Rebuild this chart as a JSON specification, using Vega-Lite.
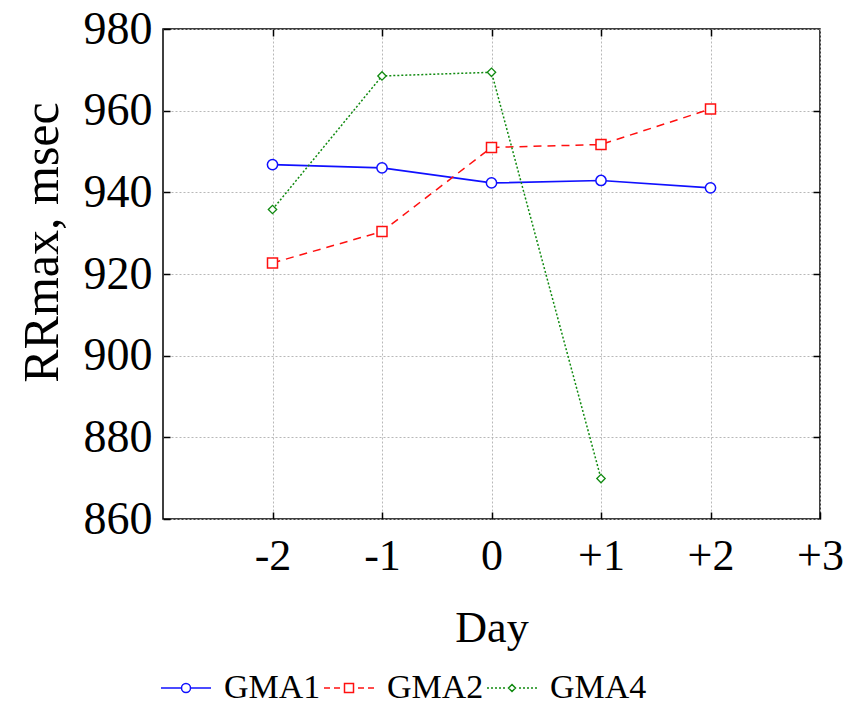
{
  "$schema": "https://vega.github.io/schema/vega-lite/v6.json",
  "width": 657,
  "height": 490,
  "autosize": {"type": "none"},
  "padding": {"left": 163, "top": 29, "right": 24, "bottom": 191},
  "background": "white",
  "config": {
    "view": {"stroke": "black", "strokeWidth": 1.5},
    "font": "Liberation Serif",
    "axis": {"domain": false, "labelColor": "black", "titleColor": "black", "titleFontWeight": "normal", "labelFont": "Liberation Serif", "titleFont": "Liberation Serif", "tickColor": "black", "tickWidth": 1.5, "gridColor": "#b8b8b8", "gridDash": [2, 2], "gridWidth": 1}
  },
  "data": {
    "values": [
      {"day": -2, "rr": 946.8, "series": "GMA1"},
      {"day": -1, "rr": 946.0, "series": "GMA1"},
      {"day": 0, "rr": 942.3, "series": "GMA1"},
      {"day": 1, "rr": 942.9, "series": "GMA1"},
      {"day": 2, "rr": 941.1, "series": "GMA1"},
      {"day": -2, "rr": 922.7, "series": "GMA2"},
      {"day": -1, "rr": 930.4, "series": "GMA2"},
      {"day": 0, "rr": 951.0, "series": "GMA2"},
      {"day": 1, "rr": 951.7, "series": "GMA2"},
      {"day": 2, "rr": 960.4, "series": "GMA2"},
      {"day": -2, "rr": 935.8, "series": "GMA4"},
      {"day": -1, "rr": 968.5, "series": "GMA4"},
      {"day": 0, "rr": 969.4, "series": "GMA4"},
      {"day": 1, "rr": 869.9, "series": "GMA4"}
    ]
  },
  "resolve": {"axis": {"x": "independent", "y": "independent"}},
  "layer": [
    {
      "transform": [{"filter": "datum.series == 'GMA1'"}],
      "mark": {"type": "line", "strokeWidth": 1.7, "color": "#1010ff"},
      "encoding": {
        "x": {"field": "day", "type": "quantitative", "scale": {"domain": [-3, 3], "nice": false},
          "axis": {"values": [-2, -1, 0, 1, 2, 3], "labelExpr": "datum.value > 0 ? '+' + datum.value : '' + datum.value", "labelFontSize": 44, "labelPadding": 22, "tickSize": -7, "labelFlush": false, "title": "Day", "titleFontSize": 44, "titleY": 122, "titleBaseline": "alphabetic"}},
        "y": {"field": "rr", "type": "quantitative", "scale": {"domain": [860, 980], "nice": false, "zero": false},
          "axis": {"values": [860, 880, 900, 920, 940, 960, 980], "labelFontSize": 46, "labelPadding": 18, "tickSize": -7, "labelFlush": false, "title": "RRmax, msec", "titleFontSize": 50, "titleAngle": -90, "titleX": -106, "titleY": 213, "titleAlign": "center", "titleBaseline": "alphabetic"}}
      }
    },
    {
      "transform": [{"filter": "datum.series == 'GMA2'"}],
      "mark": {"type": "line", "strokeWidth": 1.5, "color": "#ff1010", "strokeDash": [8, 6]},
      "encoding": {
        "x": {"field": "day", "type": "quantitative",
          "axis": {"orient": "top", "values": [-2, -1, 0, 1, 2], "labels": false, "grid": false, "tickSize": -7, "title": null}},
        "y": {"field": "rr", "type": "quantitative",
          "axis": {"orient": "right", "values": [880, 900, 920, 940, 960], "labels": false, "grid": false, "tickSize": -7, "title": null}}
      }
    },
    {
      "transform": [{"filter": "datum.series == 'GMA4'"}],
      "mark": {"type": "line", "strokeWidth": 1.5, "color": "#108a10", "strokeDash": [2, 2]},
      "encoding": {
        "x": {"field": "day", "type": "quantitative", "axis": null},
        "y": {"field": "rr", "type": "quantitative", "axis": null}
      }
    },
    {
      "transform": [{"filter": "datum.series == 'GMA1'"}],
      "mark": {"type": "point", "shape": "circle", "size": 105, "filled": false, "fill": "white", "fillOpacity": 1, "strokeWidth": 1.5, "color": "#1010ff"},
      "encoding": {
        "x": {"field": "day", "type": "quantitative", "axis": null},
        "y": {"field": "rr", "type": "quantitative", "axis": null}
      }
    },
    {
      "transform": [{"filter": "datum.series == 'GMA2'"}],
      "mark": {"type": "point", "shape": "square", "size": 100, "filled": false, "fill": "white", "fillOpacity": 1, "strokeWidth": 1.5, "color": "#ff1010"},
      "encoding": {
        "x": {"field": "day", "type": "quantitative", "axis": null},
        "y": {"field": "rr", "type": "quantitative", "axis": null}
      }
    },
    {
      "transform": [{"filter": "datum.series == 'GMA4'"}],
      "mark": {"type": "point", "shape": "diamond", "size": 70, "filled": false, "fill": "white", "fillOpacity": 1, "strokeWidth": 1.3, "color": "#108a10"},
      "encoding": {
        "x": {"field": "day", "type": "quantitative", "axis": null},
        "y": {"field": "rr", "type": "quantitative", "axis": null}
      }
    },
    {
      "mark": {"type": "point", "opacity": 0, "filled": false, "strokeWidth": 1.5},
      "encoding": {
        "x": {"field": "day", "type": "quantitative", "axis": null},
        "y": {"field": "rr", "type": "quantitative", "axis": null},
        "color": {"field": "series", "type": "nominal",
          "scale": {"domain": ["GMA1", "GMA2", "GMA4"], "range": ["#1010ff", "#ff1010", "#108a10"]},
          "legend": {
            "title": null, "orient": "none", "direction": "horizontal", "columns": 3,
            "legendX": -3, "legendY": 633, "symbolSize": 2500, "labelFontSize": 34, "labelFont": "Liberation Serif", "labelColor": "black",
            "labelOffset": 12, "columnPadding": 0, "symbolStrokeWidth": 1.5,
            "encode": {"symbols": {"update": {"fill": {"value": "white"}, "opacity": {"value": 1}, "fillOpacity": {"value": 1}, "strokeOpacity": {"value": 1}}}}
          }},
        "shape": {"field": "series", "type": "nominal",
          "scale": {"domain": ["GMA1", "GMA2", "GMA4"], "range": [
            "M-1,0H-0.18M0.18,0H1M0.18,0A0.18,0.18 0 1,1 -0.18,0A0.18,0.18 0 1,1 0.18,0Z",
            "M-1,0H-0.76M-0.6,0H-0.36M0.36,0H0.6M0.76,0H1M-0.18,-0.18H0.18V0.18H-0.18Z",
            "M-1,0H-0.92M-0.84,0H-0.76M-0.68,0H-0.6M-0.52,0H-0.44M-0.36,0H-0.28M0.28,0H0.36M0.44,0H0.52M0.6,0H0.68M0.76,0H0.84M0.92,0H1M0,-0.14L0.14,0L0,0.14L-0.14,0Z"
          ]},
          "legend": {
            "title": null, "orient": "none", "direction": "horizontal", "columns": 3,
            "legendX": -3, "legendY": 633, "symbolSize": 2500, "labelFontSize": 34, "labelFont": "Liberation Serif", "labelColor": "black",
            "labelOffset": 12, "columnPadding": 0, "symbolStrokeWidth": 1.5,
            "encode": {"symbols": {"update": {"fill": {"value": "white"}, "opacity": {"value": 1}, "fillOpacity": {"value": 1}, "strokeOpacity": {"value": 1}}}}
          }
        }
      }
    }
  ]
}
